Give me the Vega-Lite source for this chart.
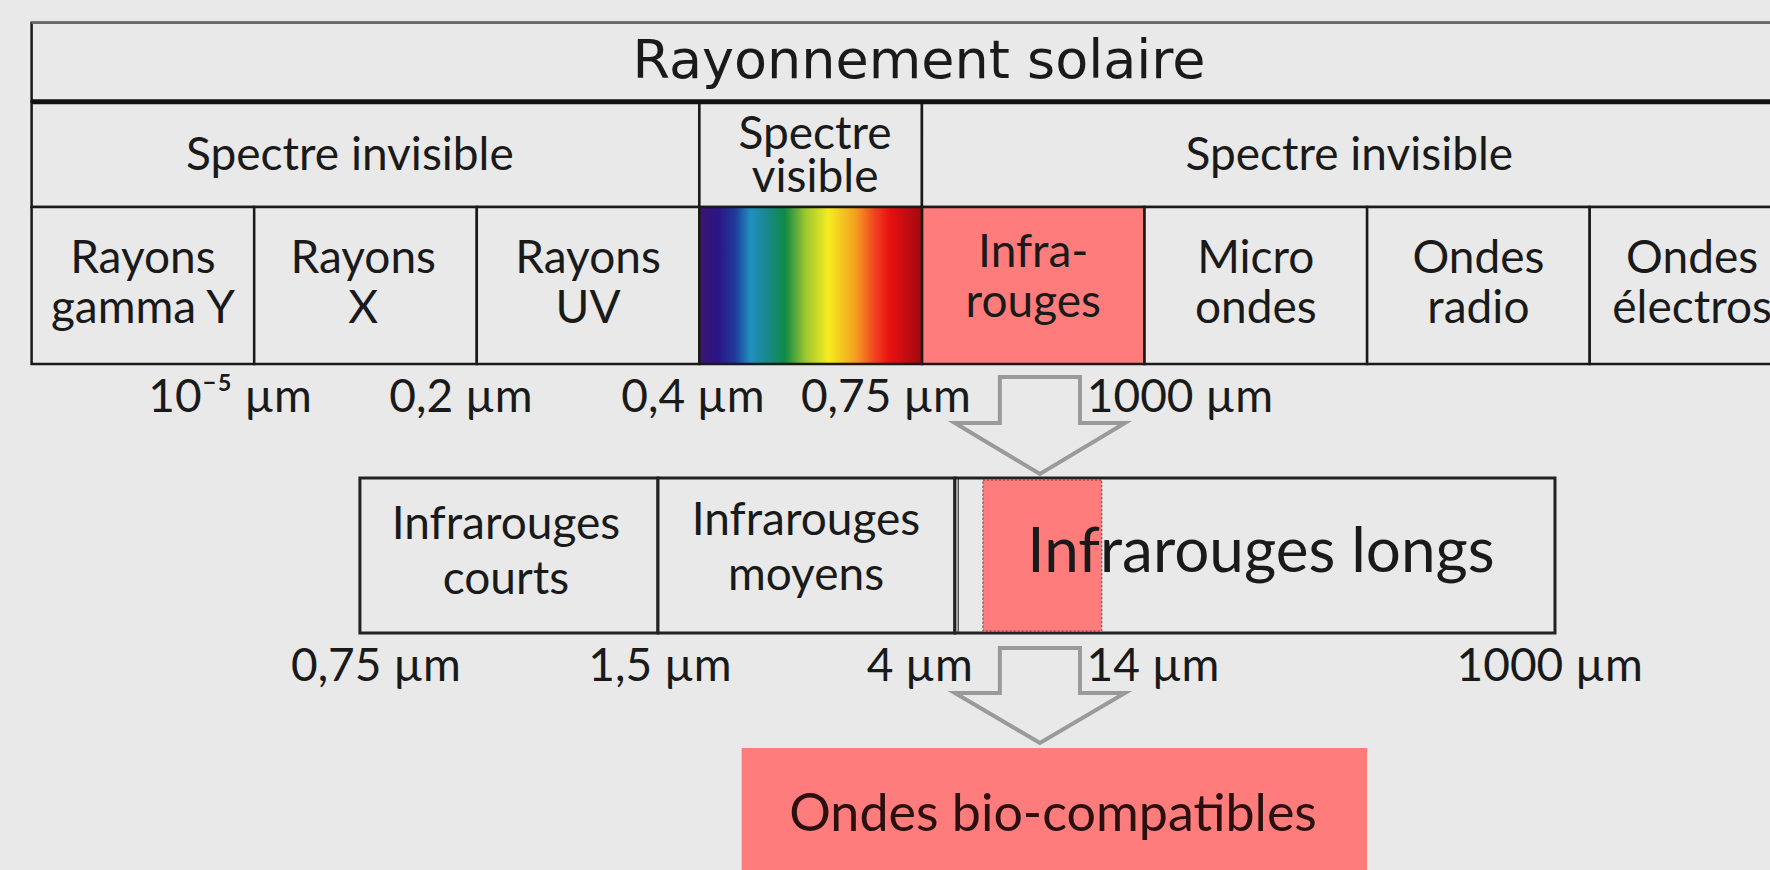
{
  "$schema": "https://vega.github.io/schema/vega-lite/v6.json",
  "width": 1770,
  "height": 870,
  "autosize": {"type": "fit", "contains": "padding"},
  "padding": 0,
  "background": "#e8e9e8",
  "config": {"view": {"stroke": null}},
  "datasets": {
    "cells": [
      {"x": 0, "x2": 8.6, "y": 0.227, "y2": 1.017, "k": "plain"},
      {"x": 0, "x2": 3, "y": 1.017, "y2": 2.07, "k": "plain"},
      {"x": 3, "x2": 4, "y": 1.017, "y2": 2.07, "k": "plain"},
      {"x": 4, "x2": 8.6, "y": 1.017, "y2": 2.07, "k": "plain"},
      {"x": 0, "x2": 1, "y": 2.07, "y2": 3.64, "k": "plain"},
      {"x": 1, "x2": 2, "y": 2.07, "y2": 3.64, "k": "plain"},
      {"x": 2, "x2": 3, "y": 2.07, "y2": 3.64, "k": "plain"},
      {"x": 4, "x2": 5, "y": 2.07, "y2": 3.64, "k": "pink"},
      {"x": 5, "x2": 6, "y": 2.07, "y2": 3.64, "k": "plain"},
      {"x": 6, "x2": 7, "y": 2.07, "y2": 3.64, "k": "plain"},
      {"x": 7, "x2": 8, "y": 2.07, "y2": 3.64, "k": "plain"},
      {"x": 8, "x2": 9, "y": 2.07, "y2": 3.64, "k": "plain"}
    ],
    "visible": [
      {"x": 3, "x2": 4, "y": 2.07, "y2": 3.64}
    ],
    "midcells": [
      {"x": 1.475, "x2": 2.814, "y": 4.78, "y2": 6.33},
      {"x": 2.814, "x2": 4.148, "y": 4.78, "y2": 6.33},
      {"x": 4.148, "x2": 6.844, "y": 4.78, "y2": 6.33}
    ],
    "midpink": [
      {"x": 4.274, "x2": 4.808, "y": 4.8, "y2": 6.31}
    ],
    "biobox": [
      {"x": 3.19, "x2": 6.0, "y": 7.48, "y2": 9.0}
    ],
    "thick": [
      {"x": 0, "x2": 8.6, "y": 1.017, "y2": 1.017}
    ],
    "topline": [
      {"x": 0, "x2": 8.6, "y": 0.227, "y2": 0.227}
    ],
    "thin": [
      {"x": 4.163, "x2": 4.163, "y": 4.79, "y2": 6.32}
    ],
    "arrows": [
      {"a": "a1", "o": 0, "x": 4.35, "y": 3.77},
      {"a": "a1", "o": 1, "x": 4.71, "y": 3.77},
      {"a": "a1", "o": 2, "x": 4.71, "y": 4.23},
      {"a": "a1", "o": 3, "x": 4.912, "y": 4.23},
      {"a": "a1", "o": 4, "x": 4.53, "y": 4.74},
      {"a": "a1", "o": 5, "x": 4.148, "y": 4.23},
      {"a": "a1", "o": 6, "x": 4.35, "y": 4.23},
      {"a": "a2", "o": 0, "x": 4.35, "y": 6.48},
      {"a": "a2", "o": 1, "x": 4.71, "y": 6.48},
      {"a": "a2", "o": 2, "x": 4.71, "y": 6.93},
      {"a": "a2", "o": 3, "x": 4.912, "y": 6.93},
      {"a": "a2", "o": 4, "x": 4.53, "y": 7.43},
      {"a": "a2", "o": 5, "x": 4.148, "y": 6.93},
      {"a": "a2", "o": 6, "x": 4.35, "y": 6.93}
    ],
    "texts": [
      {"g": "title", "t": "Rayonnement solaire", "x": 3.987, "y": 0.62},
      {"g": "cell", "t": "Spectre invisible", "x": 1.43, "y": 1.56},
      {"g": "cell", "t": "Spectre invisible", "x": 5.92, "y": 1.56},
      {"g": "vis", "t": "Spectre\nvisible", "x": 3.52, "y": 1.345},
      {"g": "cell", "t": "Rayons\ngamma Y", "x": 0.5, "y": 2.59},
      {"g": "cell", "t": "Rayons\nX", "x": 1.49, "y": 2.59},
      {"g": "cell", "t": "Rayons\nUV", "x": 2.5, "y": 2.59},
      {"g": "cell", "t": "Infra-\nrouges", "x": 4.5, "y": 2.53},
      {"g": "cell", "t": "Micro\nondes", "x": 5.5, "y": 2.59},
      {"g": "cell", "t": "Ondes\nradio", "x": 6.5, "y": 2.59},
      {"g": "cell", "t": "Ondes\nélectros", "x": 7.46, "y": 2.59},
      {"g": "cell", "t": "10⁻⁵ µm", "x": 0.892, "y": 3.98},
      {"g": "cell", "t": "0,2 µm", "x": 1.929, "y": 3.98},
      {"g": "cell", "t": "0,4 µm", "x": 2.971, "y": 3.98},
      {"g": "cell", "t": "0,75 µm", "x": 3.838, "y": 3.98},
      {"g": "cell", "t": "1000 µm", "x": 5.159, "y": 3.98},
      {"g": "mid", "t": "Infrarouges\ncourts", "x": 2.131, "y": 5.25},
      {"g": "mid", "t": "Infrarouges\nmoyens", "x": 3.479, "y": 5.21},
      {"g": "big", "t": "Infrarouges longs", "x": 5.523, "y": 5.53},
      {"g": "cell", "t": "0,75 µm", "x": 1.547, "y": 6.67},
      {"g": "cell", "t": "1,5 µm", "x": 2.823, "y": 6.67},
      {"g": "cell", "t": "4 µm", "x": 3.99, "y": 6.67},
      {"g": "cell", "t": "14 µm", "x": 5.038, "y": 6.67},
      {"g": "cell", "t": "1000 µm", "x": 6.82, "y": 6.67},
      {"g": "bio", "t": "Ondes bio-compatibles", "x": 4.589, "y": 8.15}
    ]
  },
  "layer": [
    {
      "data": {"name": "cells"},
      "mark": {"type": "rect", "stroke": "#1a1a1a", "strokeWidth": 2.5, "clip": true},
      "encoding": {
        "x": {"field": "x", "type": "quantitative", "scale": {"domain": [-0.142, 7.81], "nice": false, "zero": false}, "axis": null},
        "x2": {"field": "x2"},
        "y": {"field": "y", "type": "quantitative", "scale": {"domain": [0, 8.7], "reverse": true, "nice": false, "zero": false}, "axis": null},
        "y2": {"field": "y2"},
        "fill": {"field": "k", "type": "nominal", "scale": {"domain": ["plain", "pink"], "range": ["#e8e9e8", "#fe7c7c"]}, "legend": null}
      }
    },
    {
      "data": {"name": "visible"},
      "mark": {
        "type": "rect",
        "stroke": "#1a1a1a",
        "strokeWidth": 2.5,
        "fill": {
          "gradient": "linear",
          "x1": 0, "y1": 0, "x2": 1, "y2": 0,
          "stops": [
            {"offset": 0, "color": "#3a1670"},
            {"offset": 0.083, "color": "#2a1585"},
            {"offset": 0.16, "color": "#1f3a9a"},
            {"offset": 0.23, "color": "#2090c0"},
            {"offset": 0.3, "color": "#188890"},
            {"offset": 0.385, "color": "#108a45"},
            {"offset": 0.48, "color": "#a0c830"},
            {"offset": 0.58, "color": "#f5ec20"},
            {"offset": 0.7, "color": "#f5a020"},
            {"offset": 0.79, "color": "#f04020"},
            {"offset": 0.855, "color": "#e81010"},
            {"offset": 1, "color": "#a00a10"}
          ]
        }
      },
      "encoding": {
        "x": {"field": "x", "type": "quantitative", "scale": {"domain": [-0.142, 7.81], "nice": false, "zero": false}, "axis": null},
        "x2": {"field": "x2"},
        "y": {"field": "y", "type": "quantitative", "scale": {"domain": [0, 8.7], "reverse": true, "nice": false, "zero": false}, "axis": null},
        "y2": {"field": "y2"}
      }
    },
    {
      "data": {"name": "midcells"},
      "mark": {"type": "rect", "stroke": "#222222", "strokeWidth": 3, "fill": "#e8e9e8"},
      "encoding": {
        "x": {"field": "x", "type": "quantitative", "scale": {"domain": [-0.142, 7.81], "nice": false, "zero": false}, "axis": null},
        "x2": {"field": "x2"},
        "y": {"field": "y", "type": "quantitative", "scale": {"domain": [0, 8.7], "reverse": true, "nice": false, "zero": false}, "axis": null},
        "y2": {"field": "y2"}
      }
    },
    {
      "data": {"name": "midpink"},
      "mark": {"type": "rect", "fill": "#fe7c7c", "stroke": "#7a3030", "strokeWidth": 1, "strokeDash": [2, 2]},
      "encoding": {
        "x": {"field": "x", "type": "quantitative", "scale": {"domain": [-0.142, 7.81], "nice": false, "zero": false}, "axis": null},
        "x2": {"field": "x2"},
        "y": {"field": "y", "type": "quantitative", "scale": {"domain": [0, 8.7], "reverse": true, "nice": false, "zero": false}, "axis": null},
        "y2": {"field": "y2"}
      }
    },
    {
      "data": {"name": "biobox"},
      "mark": {"type": "rect", "fill": "#fe7c7c", "clip": true},
      "encoding": {
        "x": {"field": "x", "type": "quantitative", "scale": {"domain": [-0.142, 7.81], "nice": false, "zero": false}, "axis": null},
        "x2": {"field": "x2"},
        "y": {"field": "y", "type": "quantitative", "scale": {"domain": [0, 8.7], "reverse": true, "nice": false, "zero": false}, "axis": null},
        "y2": {"field": "y2"}
      }
    },
    {
      "data": {"name": "thick"},
      "mark": {"type": "rule", "stroke": "#111111", "strokeWidth": 5, "clip": true},
      "encoding": {
        "x": {"field": "x", "type": "quantitative", "scale": {"domain": [-0.142, 7.81], "nice": false, "zero": false}, "axis": null},
        "x2": {"field": "x2"},
        "y": {"field": "y", "type": "quantitative", "scale": {"domain": [0, 8.7], "reverse": true, "nice": false, "zero": false}, "axis": null},
        "y2": {"field": "y2"}
      }
    },
    {
      "data": {"name": "topline"},
      "mark": {"type": "rule", "stroke": "#6a6a6a", "strokeWidth": 2.5, "clip": true},
      "encoding": {
        "x": {"field": "x", "type": "quantitative", "scale": {"domain": [-0.142, 7.81], "nice": false, "zero": false}, "axis": null},
        "x2": {"field": "x2"},
        "y": {"field": "y", "type": "quantitative", "scale": {"domain": [0, 8.7], "reverse": true, "nice": false, "zero": false}, "axis": null},
        "y2": {"field": "y2"}
      }
    },
    {
      "data": {"name": "thin"},
      "mark": {"type": "rule", "stroke": "#333333", "strokeWidth": 1.2},
      "encoding": {
        "x": {"field": "x", "type": "quantitative", "scale": {"domain": [-0.142, 7.81], "nice": false, "zero": false}, "axis": null},
        "x2": {"field": "x2"},
        "y": {"field": "y", "type": "quantitative", "scale": {"domain": [0, 8.7], "reverse": true, "nice": false, "zero": false}, "axis": null},
        "y2": {"field": "y2"}
      }
    },
    {
      "data": {"name": "arrows"},
      "mark": {"type": "line", "interpolate": "linear-closed", "stroke": "#9a9a9a", "strokeWidth": 4, "strokeJoin": "miter"},
      "encoding": {
        "x": {"field": "x", "type": "quantitative", "scale": {"domain": [-0.142, 7.81], "nice": false, "zero": false}, "axis": null},
        "y": {"field": "y", "type": "quantitative", "scale": {"domain": [0, 8.7], "reverse": true, "nice": false, "zero": false}, "axis": null},
        "detail": {"field": "a", "type": "nominal"},
        "order": {"field": "o", "type": "quantitative"}
      }
    },
    {
      "data": {"name": "texts"},
      "transform": [{"filter": "datum.g == 'title'"}],
      "mark": {"type": "text", "font": "DejaVu Sans", "fontSize": 54, "color": "#1a1a1a", "baseline": "middle", "align": "center"},
      "encoding": {
        "x": {"field": "x", "type": "quantitative", "scale": {"domain": [-0.142, 7.81], "nice": false, "zero": false}, "axis": null},
        "y": {"field": "y", "type": "quantitative", "scale": {"domain": [0, 8.7], "reverse": true, "nice": false, "zero": false}, "axis": null},
        "text": {"field": "t", "type": "nominal"}
      }
    },
    {
      "data": {"name": "texts"},
      "transform": [{"filter": "datum.g == 'cell'"}],
      "mark": {"type": "text", "font": "Lato", "fontSize": 46, "lineHeight": 50, "lineBreak": "\n", "color": "#1a1a1a", "baseline": "middle", "align": "center", "clip": true},
      "encoding": {
        "x": {"field": "x", "type": "quantitative", "scale": {"domain": [-0.142, 7.81], "nice": false, "zero": false}, "axis": null},
        "y": {"field": "y", "type": "quantitative", "scale": {"domain": [0, 8.7], "reverse": true, "nice": false, "zero": false}, "axis": null},
        "text": {"field": "t", "type": "nominal"}
      }
    },
    {
      "data": {"name": "texts"},
      "transform": [{"filter": "datum.g == 'vis'"}],
      "mark": {"type": "text", "font": "Lato", "fontSize": 46, "lineHeight": 43, "lineBreak": "\n", "color": "#1a1a1a", "baseline": "middle", "align": "center"},
      "encoding": {
        "x": {"field": "x", "type": "quantitative", "scale": {"domain": [-0.142, 7.81], "nice": false, "zero": false}, "axis": null},
        "y": {"field": "y", "type": "quantitative", "scale": {"domain": [0, 8.7], "reverse": true, "nice": false, "zero": false}, "axis": null},
        "text": {"field": "t", "type": "nominal"}
      }
    },
    {
      "data": {"name": "texts"},
      "transform": [{"filter": "datum.g == 'mid'"}],
      "mark": {"type": "text", "font": "Lato", "fontSize": 46, "lineHeight": 55, "lineBreak": "\n", "color": "#1a1a1a", "baseline": "middle", "align": "center"},
      "encoding": {
        "x": {"field": "x", "type": "quantitative", "scale": {"domain": [-0.142, 7.81], "nice": false, "zero": false}, "axis": null},
        "y": {"field": "y", "type": "quantitative", "scale": {"domain": [0, 8.7], "reverse": true, "nice": false, "zero": false}, "axis": null},
        "text": {"field": "t", "type": "nominal"}
      }
    },
    {
      "data": {"name": "texts"},
      "transform": [{"filter": "datum.g == 'big'"}],
      "mark": {"type": "text", "font": "Lato", "fontSize": 62, "color": "#1a1a1a", "baseline": "middle", "align": "center"},
      "encoding": {
        "x": {"field": "x", "type": "quantitative", "scale": {"domain": [-0.142, 7.81], "nice": false, "zero": false}, "axis": null},
        "y": {"field": "y", "type": "quantitative", "scale": {"domain": [0, 8.7], "reverse": true, "nice": false, "zero": false}, "axis": null},
        "text": {"field": "t", "type": "nominal"}
      }
    },
    {
      "data": {"name": "texts"},
      "transform": [{"filter": "datum.g == 'bio'"}],
      "mark": {"type": "text", "font": "Lato", "fontSize": 52, "color": "#2a1010", "baseline": "middle", "align": "center"},
      "encoding": {
        "x": {"field": "x", "type": "quantitative", "scale": {"domain": [-0.142, 7.81], "nice": false, "zero": false}, "axis": null},
        "y": {"field": "y", "type": "quantitative", "scale": {"domain": [0, 8.7], "reverse": true, "nice": false, "zero": false}, "axis": null},
        "text": {"field": "t", "type": "nominal"}
      }
    }
  ]
}
